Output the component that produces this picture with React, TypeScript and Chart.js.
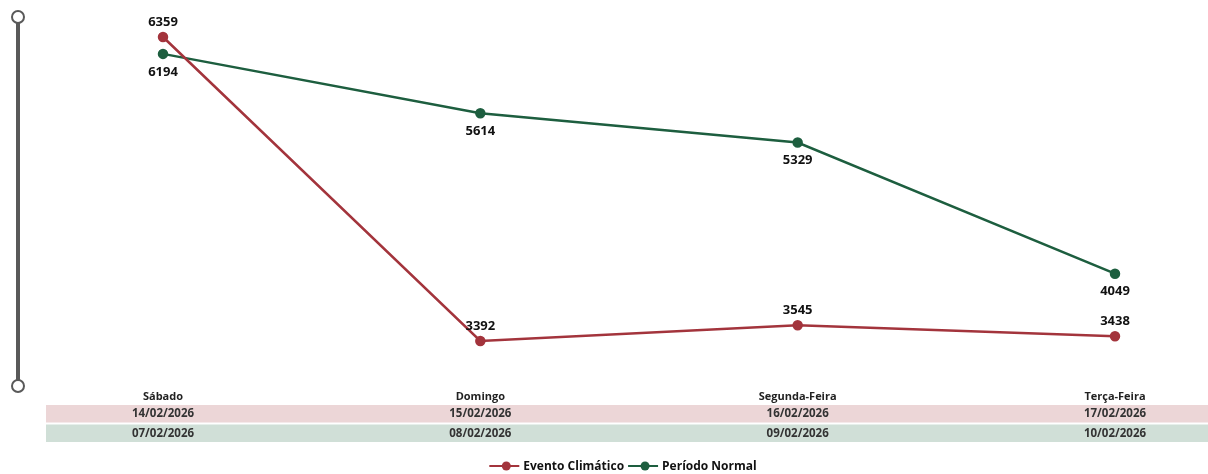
import React, { useEffect, useRef } from "react";
import { Chart, registerables } from "chart.js";

Chart.register(...registerables);

const dayNames = ["Sábado", "Domingo", "Segunda-Feira", "Terça-Feira"];
const eventDates = ["14/02/2026", "15/02/2026", "16/02/2026", "17/02/2026"];
const normalDates = ["07/02/2026", "08/02/2026", "09/02/2026", "10/02/2026"];
const eventoValues = [6359, 3392, 3545, 3438];
const normalValues = [6194, 5614, 5329, 4049];

const RED = "#A3343C";
const GREEN = "#1D5E3F";
const FONT = "'Open Sans', 'DejaVu Sans', sans-serif";

const overlayPlugin = {
  id: "overlay",
  afterDraw(chart: any) {
    const ctx = chart.ctx;
    const x = chart.scales.x;
    ctx.save();

    // slider on the left
    const sx = 18;
    const top = chart.chartArea.top;
    const bottom = chart.chartArea.bottom;
    ctx.strokeStyle = "#595959";
    ctx.lineWidth = 4;
    ctx.beginPath();
    ctx.moveTo(sx, top);
    ctx.lineTo(sx, bottom);
    ctx.stroke();
    ctx.lineWidth = 2;
    for (const cy of [top, bottom]) {
      ctx.beginPath();
      ctx.arc(sx, cy, 6, 0, Math.PI * 2);
      ctx.fillStyle = "#ffffff";
      ctx.fill();
      ctx.strokeStyle = "#595959";
      ctx.stroke();
    }

    // data labels
    ctx.textAlign = "center";
    ctx.textBaseline = "middle";
    ctx.font = `bold 13px ${FONT}`;
    ctx.fillStyle = "#111";
    chart.data.datasets.forEach((ds: any, di: number) => {
      const meta = chart.getDatasetMeta(di);
      meta.data.forEach((pt: any, i: number) => {
        const off = di === 0 ? -15 : 18;
        ctx.fillText(String(ds.data[i]), pt.x, pt.y + off);
      });
    });

    // category table
    const w = chart.width;
    ctx.fillStyle = "#ECD6D7";
    ctx.fillRect(46, 405, w - 46, 17.5);
    ctx.fillStyle = "#D0DFD7";
    ctx.fillRect(46, 424.5, w - 46, 17.5);
    dayNames.forEach((d, i) => {
      const px = x.getPixelForValue(i);
      ctx.fillStyle = "#222";
      ctx.font = `bold 11px ${FONT}`;
      ctx.fillText(d, px, 397);
      ctx.font = `bold 11.5px ${FONT}`;
      ctx.fillStyle = "#333";
      ctx.fillText(eventDates[i], px, 414);
      ctx.fillText(normalDates[i], px, 433.5);
    });

    // legend
    ctx.font = `bold 12px ${FONT}`;
    ctx.textAlign = "left";
    const items = chart.data.datasets.map((ds: any) => ({
      label: ds.label,
      color: ds.borderColor,
      tw: ctx.measureText(ds.label).width,
    }));
    const lineW = 30;
    const gap = 4;
    const itemGap = 4;
    const total = items.reduce((s: number, it: any) => s + lineW + gap + it.tw, 0) + itemGap * (items.length - 1);
    let lx = (w - total) / 2 + 19;
    const ly = 466;
    items.forEach((it: any) => {
      ctx.strokeStyle = it.color;
      ctx.lineWidth = 2;
      ctx.beginPath();
      ctx.moveTo(lx, ly);
      ctx.lineTo(lx + lineW, ly);
      ctx.stroke();
      ctx.fillStyle = it.color;
      ctx.beginPath();
      ctx.arc(lx + lineW / 2 + 2, ly, 4.5, 0, Math.PI * 2);
      ctx.fill();
      ctx.fillStyle = "#111";
      ctx.fillText(it.label, lx + lineW + gap, ly + 0.5);
      lx += lineW + gap + it.tw + itemGap;
    });

    ctx.restore();
  },
};

export default function App() {
  const ref = useRef<HTMLCanvasElement>(null);
  useEffect(() => {
    if (!ref.current) return;
    const chart = new Chart(ref.current, {
      type: "line",
      data: {
        labels: dayNames,
        datasets: [
          {
            label: "Evento Climático",
            data: eventoValues,
            borderColor: RED,
            backgroundColor: RED,
            borderWidth: 2.5,
            pointRadius: 4,
            pointHoverRadius: 4,
            tension: 0,
          },
          {
            label: "Período Normal",
            data: normalValues,
            borderColor: GREEN,
            backgroundColor: GREEN,
            borderWidth: 2.5,
            pointRadius: 4,
            pointHoverRadius: 4,
            tension: 0,
          },
        ],
      },
      options: {
        animation: false,
        responsive: false,
        maintainAspectRatio: false,
        layout: { padding: { left: 163, right: 93, top: 17, bottom: 88 } },
        plugins: { legend: { display: false }, tooltip: { enabled: false } },
        scales: {
          x: { type: "category", display: false, offset: false },
          y: { display: false, min: 2953, max: 6554 },
        },
      },
      plugins: [overlayPlugin],
    });
    return () => chart.destroy();
  }, []);
  return (
    <div style={{ position: "fixed", left: 0, top: 0, width: 1208, height: 474, background: "#fff" }}>
      <canvas ref={ref} width={1208} height={474} style={{ width: 1208, height: 474 }} />
    </div>
  );
}
